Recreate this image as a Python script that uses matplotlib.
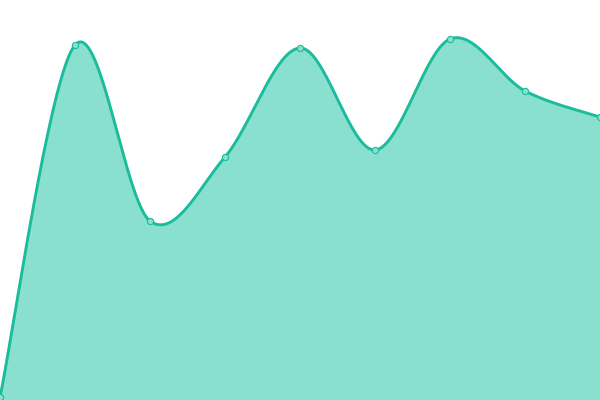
import numpy as np
import matplotlib
matplotlib.use("Agg")
import matplotlib.pyplot as plt

# Data (x in steps, y in canvas units 0-400)
x_values = [0, 75, 150, 225, 300, 375, 450, 525, 600]
y_values = [3, 355, 179, 243, 352, 250, 361, 309, 283]

line_color = "#1abc9c"
fill_color = "#8ae0ce"


def smooth_curve(xs, ys, steps=40):
    """Catmull-Rom style curve through the points, built from cubic Beziers."""
    pts = np.column_stack([xs, ys]).astype(float)
    n = len(pts)
    out = []
    t = np.linspace(0, 1, steps)[:, None]
    for i in range(n - 1):
        p0 = pts[max(i - 1, 0)]
        p1 = pts[i]
        p2 = pts[i + 1]
        p3 = pts[min(i + 2, n - 1)]
        c1 = p1 + (p2 - p0) / 6
        c2 = p2 - (p3 - p1) / 6
        seg = ((1 - t) ** 3) * p1 + 3 * ((1 - t) ** 2) * t * c1 \
            + 3 * (1 - t) * t ** 2 * c2 + t ** 3 * p2
        out.append(seg if i == 0 else seg[1:])
    curve = np.vstack(out)
    return curve[:, 0], curve[:, 1]


cx, cy = smooth_curve(x_values, y_values)

fig = plt.figure(figsize=(6, 4), dpi=100)
ax = fig.add_axes([0, 0, 1, 1])
ax.fill_between(cx, cy, 0, color=fill_color, linewidth=0)
ax.plot(cx, cy, color=line_color, linewidth=2.1, solid_capstyle="round")
ax.plot(x_values, y_values, linestyle="none", marker="o", markersize=4.5,
        markerfacecolor=fill_color, markeredgecolor=line_color,
        markeredgewidth=0.8)
ax.set_xlim(0, 600)
ax.set_ylim(0, 400)
ax.axis("off")

fig.savefig("out.png", dpi=100)
